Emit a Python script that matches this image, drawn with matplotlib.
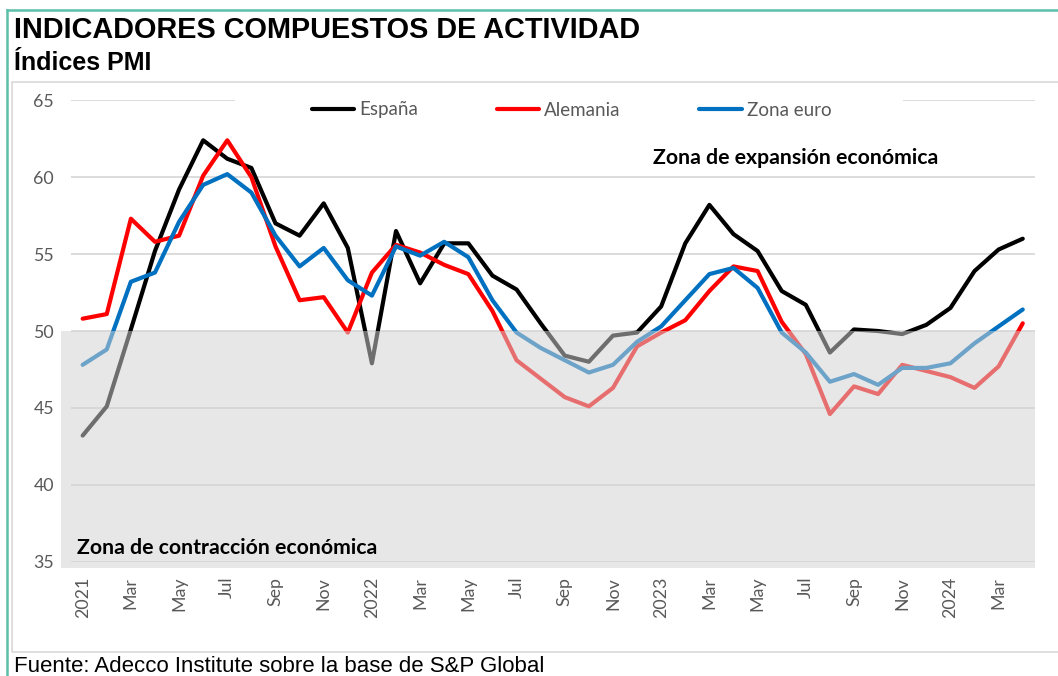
import matplotlib
matplotlib.use('Agg')
import matplotlib.pyplot as plt
from matplotlib.patches import Rectangle
from matplotlib.lines import Line2D
import numpy as np

# ---- data (monthly, Jan 2021 - Apr 2024) ----
tick_labels = ['2021', 'Mar', 'May', 'Jul', 'Sep', 'Nov',
               '2022', 'Mar', 'May', 'Jul', 'Sep', 'Nov',
               '2023', 'Mar', 'May', 'Jul', 'Sep', 'Nov',
               '2024', 'Mar']
espana = [43.2, 45.1, 50.1, 55.2, 59.2, 62.4, 61.2, 60.6, 57.0, 56.2, 58.3, 55.4,
          47.9, 56.5, 53.1, 55.7, 55.7, 53.6, 52.7, 50.5, 48.4, 48.0, 49.7, 49.9,
          51.6, 55.7, 58.2, 56.3, 55.2, 52.6, 51.7, 48.6, 50.1, 50.0, 49.8, 50.4,
          51.5, 53.9, 55.3, 56.0]
alemania = [50.8, 51.1, 57.3, 55.8, 56.2, 60.1, 62.4, 60.0, 55.5, 52.0, 52.2, 49.9,
            53.8, 55.6, 55.1, 54.3, 53.7, 51.3, 48.1, 46.9, 45.7, 45.1, 46.3, 49.0,
            49.9, 50.7, 52.6, 54.2, 53.9, 50.6, 48.5, 44.6, 46.4, 45.9, 47.8, 47.4,
            47.0, 46.3, 47.7, 50.5]
zona_euro = [47.8, 48.8, 53.2, 53.8, 57.1, 59.5, 60.2, 59.0, 56.2, 54.2, 55.4, 53.3,
             52.3, 55.5, 54.9, 55.8, 54.8, 52.0, 49.9, 48.9, 48.1, 47.3, 47.8, 49.3,
             50.3, 52.0, 53.7, 54.1, 52.8, 49.9, 48.6, 46.7, 47.2, 46.5, 47.6, 47.6,
             47.9, 49.2, 50.3, 51.4]
series_names = ['España', 'Alemania', 'Zona euro']
series_colors = ['#000000', '#ff0000', '#0070c0']

W, H = 1058, 676
fig = plt.figure(figsize=(W / 100, H / 100), dpi=100)


def fx(px):
    return px / W


def fy(py):
    return 1 - py / H


CHART_FONT = ['Lato', 'DejaVu Sans']
GRAY_TXT = '#595959'

ax_left, ax_right, ax_top, ax_bottom = 70.6, 1034.8, 100.3, 561.7
ax = fig.add_axes([fx(ax_left), fy(ax_bottom), fx(ax_right - ax_left), (ax_bottom - ax_top) / H])
ax.set_facecolor('none')

x = np.arange(len(espana))
for vals, name, col in zip([espana, alemania, zona_euro], series_names, series_colors):
    ax.plot(x, vals, color=col, lw=3.0, label=name, zorder=2,
            solid_capstyle='round', solid_joinstyle='round')

ax.set_xlim(-0.5, len(espana) - 0.5)
ax.set_ylim(35, 65)
ax.set_yticks([35, 40, 45, 50, 55, 60, 65])
ax.set_xticks(x[::2])
ax.set_xticklabels(tick_labels, rotation=90)
ax.grid(axis='y', color='#d9d9d9', lw=1.3)
ax.set_axisbelow(True)
for s in ax.spines.values():
    s.set_visible(False)
ax.tick_params(axis='both', length=0, colors=GRAY_TXT, labelsize=12.8)
ax.tick_params(axis='y', pad=12)
ax.tick_params(axis='x', pad=11)
for lab in ax.get_xticklabels() + ax.get_yticklabels():
    lab.set_family(CHART_FONT)
    lab.set_color(GRAY_TXT)

# per-pixel scale in data units
xpp = (len(espana)) / (ax_right - ax_left)
ypp = 30 / (ax_bottom - ax_top)

# contraction zone (semi-transparent gray over the lines)
rx0 = -0.5 - (ax_left - 61) * xpp
ry0 = 35 - (567.7 - ax_bottom) * ypp
ax.add_patch(Rectangle((rx0, ry0), len(espana) - 0.5 - rx0, 50 - ry0,
                       facecolor=(0.827, 0.827, 0.827), alpha=0.525, lw=0,
                       zorder=3, clip_on=False))

# white box behind legend hiding part of the 65 gridline
lx0 = -0.5 + (235 - ax_left) * xpp
lx1 = -0.5 + (903 - ax_left) * xpp
ax.add_patch(Rectangle((lx0, 63.0), lx1 - lx0, 2.6, facecolor='white', lw=0,
                       zorder=1, clip_on=False))

leg = ax.legend(loc='center', bbox_to_anchor=(fx(571.5), fy(110)),
                bbox_transform=fig.transFigure, ncol=3, frameon=False,
                handlelength=2.25, handletextpad=0.28, columnspacing=4.2,
                prop={'family': CHART_FONT, 'size': 13.5})
for t in leg.get_texts():
    t.set_color(GRAY_TXT)
for h in leg.get_lines():
    h.set_linewidth(3.0)

fig.text(fx(653), fy(158), 'Zona de expansión económica', fontsize=15.3,
         fontweight='bold', family=CHART_FONT, va='center', ha='left', color='black')
fig.text(fx(77), fy(548), 'Zona de contracción económica', fontsize=15.3,
         fontweight='bold', family=CHART_FONT, va='center', ha='left', color='black',
         zorder=5)

# titles and source
TITLE_FONT = ['Liberation Sans', 'DejaVu Sans']
fig.text(fx(14), fy(30), 'INDICADORES COMPUESTOS DE ACTIVIDAD', fontsize=20.8,
         fontweight='bold', family=TITLE_FONT, va='center', ha='left')
fig.text(fx(14), fy(63), 'Índices PMI', fontsize=18, fontweight='bold',
         family=TITLE_FONT, va='center', ha='left')
fig.text(fx(14), fy(667), 'Fuente: Adecco Institute sobre la base de S&P Global',
         fontsize=16, family=['Liberation Sans', 'DejaVu Sans'], va='center', ha='left')

# frames
teal = '#5cbfa9'
fig.add_artist(Line2D([fx(7), fx(7)], [0, fy(9.5)], color=teal, lw=1.8))
fig.add_artist(Line2D([fx(7), 1], [fy(9.5), fy(9.5)], color=teal, lw=1.8))
fig.add_artist(Rectangle((fx(12), fy(652)), fx(1070 - 12), (652 - 82) / H,
                         transform=fig.transFigure, facecolor='none',
                         edgecolor='#d9d9d9', lw=1.2))

fig.savefig('out.png', dpi=100)
